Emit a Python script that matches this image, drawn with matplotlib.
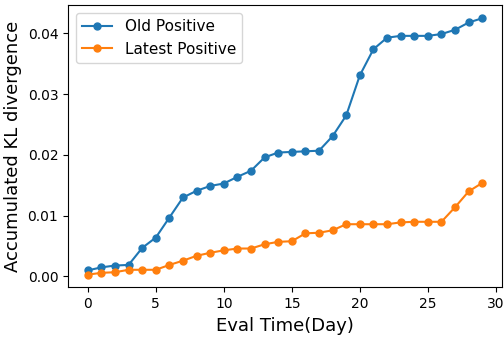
import numpy as np
import matplotlib.pyplot as plt

days = np.arange(30)
old_positive = [0.0010, 0.0015, 0.0018, 0.0019, 0.0047, 0.0064, 0.0097, 0.0130, 0.0141, 0.0149,
                0.0153, 0.0164, 0.0174, 0.0196, 0.0204, 0.0205, 0.0206, 0.0207, 0.0231, 0.0265,
                0.0331, 0.0374, 0.0393, 0.0396, 0.0396, 0.0396, 0.0399, 0.0406, 0.0418, 0.0425]
latest_positive = [0.0003, 0.0006, 0.0007, 0.0011, 0.0011, 0.0011, 0.0019, 0.0026, 0.0034, 0.0039,
                   0.0043, 0.0046, 0.0046, 0.0053, 0.0057, 0.0058, 0.0071, 0.0072, 0.0076, 0.0086,
                   0.0086, 0.0086, 0.0086, 0.0089, 0.0090, 0.0090, 0.0090, 0.0114, 0.0140, 0.0154]

fig, ax = plt.subplots(figsize=(5.04, 3.39), dpi=100)
ax.plot(days, old_positive, marker='o', markersize=5, label='Old Positive')
ax.plot(days, latest_positive, marker='o', markersize=5, label='Latest Positive')
ax.set_xlabel('Eval Time(Day)', fontsize=13)
ax.set_ylabel('Accumulated KL divergence', fontsize=13)
ax.set_xticks([0, 5, 10, 15, 20, 25, 30])
ax.tick_params(labelsize=10)
ax.legend(fontsize=11, loc='upper left')
fig.subplots_adjust(left=0.135, right=0.996, top=0.984, bottom=0.152)
fig.savefig('out.png')
